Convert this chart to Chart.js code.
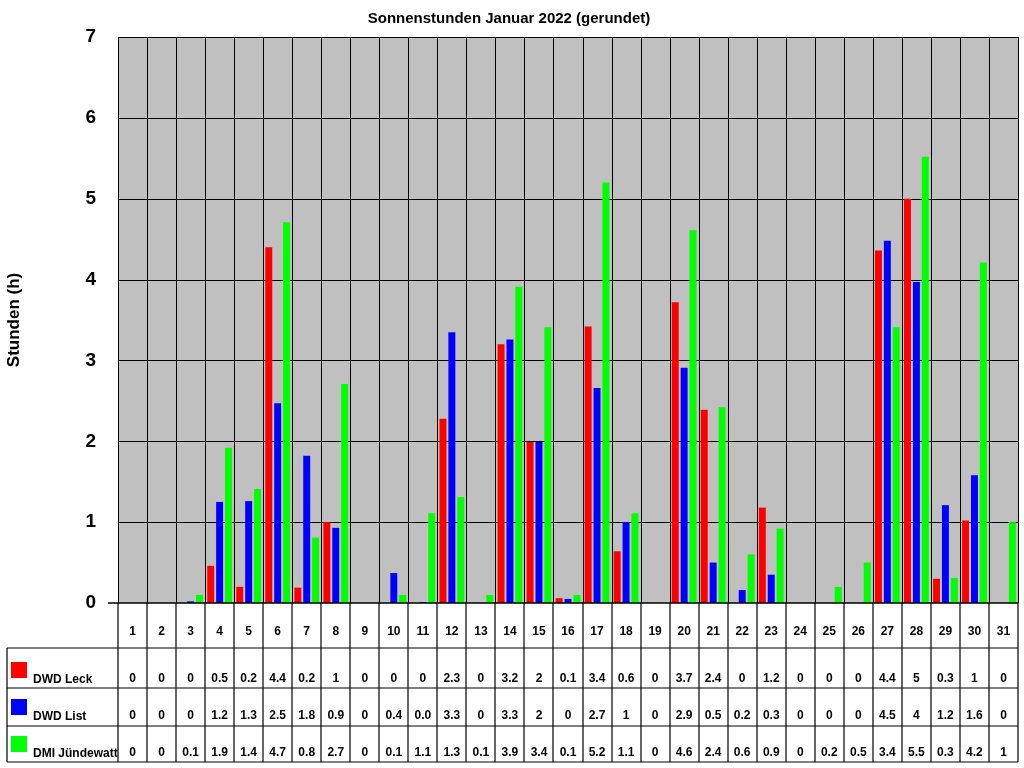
<!DOCTYPE html>
<html><head><meta charset="utf-8">
<script src="https://cdn.jsdelivr.net/npm/chart.js@4"></script>
<style>html,body{margin:0;background:#fff}#w{width:1024px;height:768px}</style>
</head><body><div id="w"><canvas id="c"></canvas></div>
<script>
const days = ['1','2','3','4','5','6','7','8','9','10','11','12','13','14','15','16','17','18','19','20','21','22','23','24','25','26','27','28','29','30','31'];
const leck = [0,0,0,0.46,0.2,4.4,0.19,1.0,0,0,0,2.28,0,3.2,1.99,0.06,3.42,0.64,0,3.72,2.39,0,1.18,0,0,0,4.36,5.0,0.3,1.02,0];
const list = [0,0,0.02,1.25,1.26,2.47,1.82,0.93,0,0.37,0.01,3.35,0,3.26,1.99,0.05,2.66,1.0,0,2.91,0.5,0.16,0.35,0,0,0,4.48,3.97,1.21,1.58,0];
const dmi  = [0,0,0.1,1.92,1.41,4.71,0.81,2.71,0,0.1,1.11,1.31,0.1,3.91,3.41,0.1,5.2,1.11,0,4.61,2.42,0.6,0.92,0,0.2,0.5,3.41,5.52,0.31,4.21,1.0];
const leckTxt = ['0','0','0','0.5','0.2','4.4','0.2','1','0','0','0','2.3','0','3.2','2','0.1','3.4','0.6','0','3.7','2.4','0','1.2','0','0','0','4.4','5','0.3','1','0'];
const listTxt = ['0','0','0','1.2','1.3','2.5','1.8','0.9','0','0.4','0.0','3.3','0','3.3','2','0','2.7','1','0','2.9','0.5','0.2','0.3','0','0','0','4.5','4','1.2','1.6','0'];
const dmiTxt  = ['0','0','0.1','1.9','1.4','4.7','0.8','2.7','0','0.1','1.1','1.3','0.1','3.9','3.4','0.1','5.2','1.1','0','4.6','2.4','0.6','0.9','0','0.2','0.5','3.4','5.5','0.3','4.2','1'];
const names = ['DWD Leck','DWD List','DMI Jündewatt'];
const colors = ['#ff0000','#0000ff','#00ff00'];
const texts = [leckTxt, listTxt, dmiTxt];

const plug = {
  id:'p',
  beforeDatasetsDraw(ch){
    const {ctx, chartArea:a, scales:{x,y}} = ch;
    ctx.save();
    ctx.fillStyle='#c0c0c0'; ctx.fillRect(a.left,a.top,a.right-a.left,a.bottom-a.top);
    ctx.strokeStyle='#000'; ctx.lineWidth=1;
    for(let v=1;v<=7;v++){const py=Math.round(y.getPixelForValue(v))+0.5;ctx.beginPath();ctx.moveTo(a.left,py);ctx.lineTo(a.right,py);ctx.stroke();}
    const w=(a.right-a.left)/days.length;
    for(let i=0;i<=days.length;i++){const px=Math.round(a.left+i*w)+0.5;ctx.beginPath();ctx.moveTo(px,a.top);ctx.lineTo(px,a.bottom);ctx.stroke();}
    ctx.restore();
  },
  afterDraw(ch){
    const {ctx, chartArea:a, scales:{x,y}} = ch;
    ctx.save();
    ctx.strokeStyle='#000'; ctx.lineWidth=1.5;
    const b=Math.round(y.getPixelForValue(0));
    ctx.beginPath();ctx.moveTo(a.left-10,b);ctx.lineTo(a.right,b);ctx.stroke();
    const rows=[648,688,726,762];
    const w=(a.right-a.left)/days.length;
    ctx.lineWidth=1.2;
    for(let i=0;i<=days.length;i++){const px=Math.round(a.left+i*w);ctx.beginPath();ctx.moveTo(px,b);ctx.lineTo(px,762);ctx.stroke();}
    ctx.beginPath();ctx.moveTo(7,648);ctx.lineTo(7,762);ctx.stroke();
    rows.forEach(r=>{ctx.beginPath();ctx.moveTo(7,r);ctx.lineTo(a.right,r);ctx.stroke();});
    ctx.fillStyle='#000';ctx.font='bold 12px Arial, "Liberation Sans"';ctx.textAlign='center';ctx.textBaseline='middle';
    days.forEach((d,i)=>{const cx=x.getPixelForValue(i);
      ctx.fillText(d,cx,632);
      texts.forEach((t,k)=>ctx.fillText(t[i],cx,[679,716,753][k]));});
    ctx.textAlign='left';
    names.forEach((n,k)=>{const yy=[679,716,753][k];
      ctx.fillStyle=colors[k];ctx.fillRect(11,yy-17,16,16);
      ctx.fillStyle='#000';ctx.fillText(n,33,yy+1);});
    ctx.restore();
  }
};

new Chart(document.getElementById('c'),{
  type:'bar',
  data:{labels:days,datasets:[
    {label:names[0],data:leck,backgroundColor:colors[0]},
    {label:names[1],data:list,backgroundColor:colors[1]},
    {label:names[2],data:dmi,backgroundColor:colors[2]}]},
  options:{
    responsive:true,maintainAspectRatio:false,animation:false,devicePixelRatio:1,
    layout:{padding:{left:0,right:6,top:0,bottom:165}},
    categoryPercentage:0.92,barPercentage:0.78,
    plugins:{legend:{display:false},tooltip:{enabled:false},
      title:{display:true,text:'Sonnenstunden Januar 2022 (gerundet)',color:'#000',font:{family:'Arial, "Liberation Sans"',size:15,weight:'bold'},padding:{top:10,bottom:9}}},
    scales:{
      x:{display:false},
      y:{min:0,max:7,ticks:{stepSize:1,color:'#000',font:{family:'Arial, "Liberation Sans"',size:19,weight:'bold'},padding:14},
         grid:{display:false},border:{display:false},
         title:{display:true,text:'Stunden (h)',color:'#000',font:{family:'Arial, "Liberation Sans"',size:17,weight:'bold'}},
         afterFit(s){s.width=118;}}
    }
  },
  plugins:[plug]
});
</script></body></html>
